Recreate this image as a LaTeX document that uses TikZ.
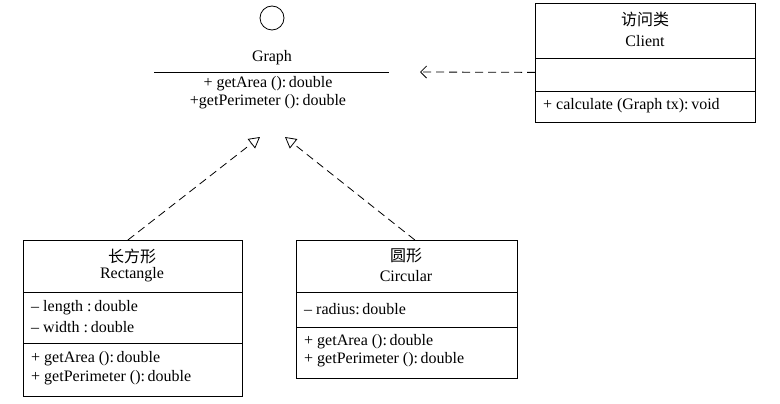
\documentclass[tikz,border=0pt]{standalone}
\usepackage{fontspec}
\setmainfont{Liberation Serif}
\newfontfamily\cjk{Noto Sans CJK SC}
\usetikzlibrary{arrows.meta}

\tikzset{
  clsbox/.style={draw, line width=0.8pt, anchor=north west, inner sep=0pt},
  txt/.style={font=\fontsize{16}{18}\selectfont, inner sep=0pt},
  lefttxt/.style={txt, anchor=west},
  realize/.style={line width=0.8pt, dash pattern=on 8pt off 5pt, -{Triangle[open,length=11pt,width=12pt]}},
  depend/.style={line width=0.8pt, dash pattern=on 8pt off 5pt, -{Straight Barb[length=6pt,width=12pt]}}
}

\begin{document}
\begin{tikzpicture}[x=1pt,y=-1pt]
\useasboundingbox (0,0) rectangle (780,404);
% interface Graph
\node [draw, circle, minimum size=24pt, inner sep=0pt, line width=0.8pt] (ball) at (272,18) {};
\node [txt] (gname) at (272,58) {Graph};
\draw [line width=0.8pt] (154,72) -- (389,72);
\node [txt] (gop1) at (268,84) {+ getArea ():\,double};
\node [txt] (gop2) at (268,102) {+getPerimeter ():\,double};
\coordinate (gtipL) at (260,137);
\coordinate (gtipR) at (285,137);
\coordinate (gdep) at (420,72);
% client
\node [clsbox, minimum width=220pt, minimum height=119pt] (client) at (535,3) {};
\draw [line width=0.8pt] (535,58) -- (755,58);
\draw [line width=0.8pt] (535,91) -- (755,91);
\node [txt] (cname1) at (645,19) {\cjk 访问类};
\node [txt] (cname2) at (645,41) {Client};
\node [lefttxt] (cop) at (543,106) {+ calculate (Graph tx):\,void};
% rectangle
\node [clsbox, minimum width=219pt, minimum height=156pt] (rect) at (23,240) {};
\draw [line width=0.8pt] (23,292) -- (242,292);
\draw [line width=0.8pt] (23,343) -- (242,343);
\node [txt] (rname1) at (132,256) {\cjk 长方形};
\node [txt] (rname2) at (132,275) {Rectangle};
\node [lefttxt] (rat1) at (31,308) {-- length :\,double};
\node [lefttxt] (rat2) at (31,327) {-- width :\,double};
\node [lefttxt] (rop1) at (31,359) {+ getArea ():\,double};
\node [lefttxt] (rop2) at (31,378) {+ getPerimeter ():\,double};
% circular
\node [clsbox, minimum width=221pt, minimum height=138pt] (circ) at (296,240) {};
\draw [line width=0.8pt] (296,292) -- (517,292);
\draw [line width=0.8pt] (296,327) -- (517,327);
\node [txt] (cirname1) at (406,256) {\cjk 圆形};
\node [txt] (cirname2) at (406,276) {Circular};
\node [lefttxt] (cirat) at (304,309) {-- radius:\,double};
\node [lefttxt] (cirop1) at (304,342) {+ getArea ():\,double};
\node [lefttxt] (cirop2) at (304,360) {+ getPerimeter ():\,double};
% relations
\draw [realize] ([xshift=-5pt]rect.north) -- (gtipL);
\draw [realize] ([xshift=8pt]circ.north) -- (gtipR);
\draw [depend] ([yshift=-9.5pt]client.west) -- (gdep);
\end{tikzpicture}
\end{document}
